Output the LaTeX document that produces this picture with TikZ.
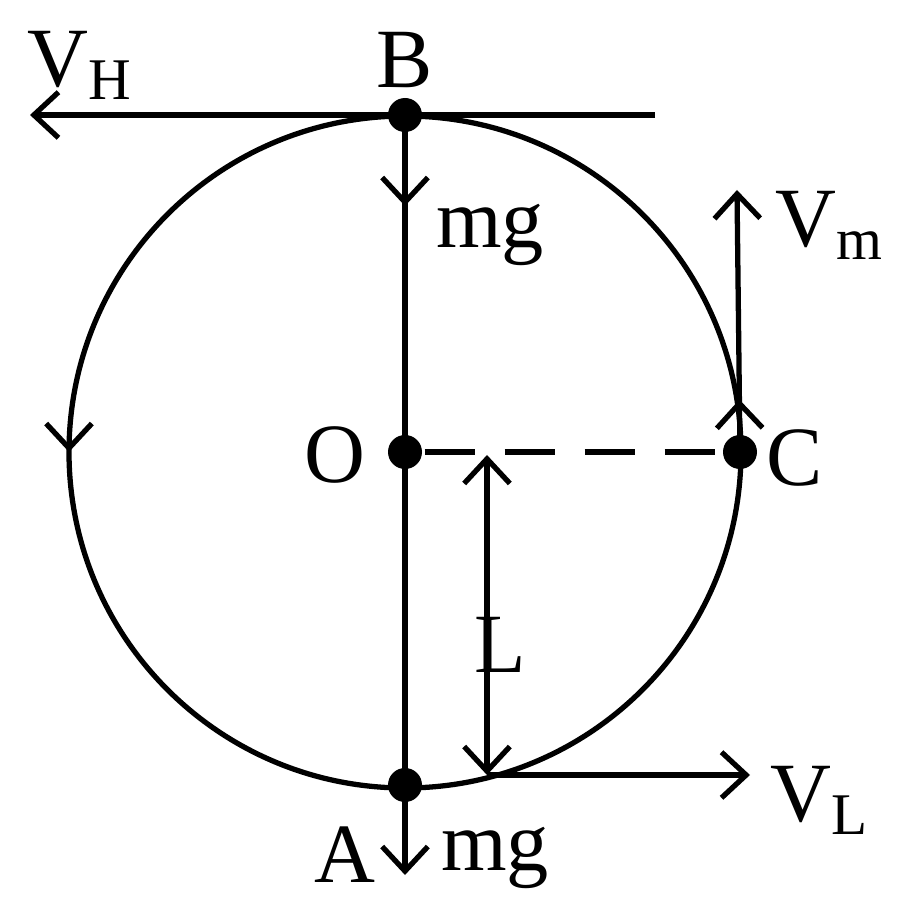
\documentclass[tikz,border=0pt]{standalone}
\usepackage{fontspec}
\setmainfont{Liberation Serif}
\usetikzlibrary{arrows.meta,positioning,decorations.markings,calc}
\tikzset{
	pt/.style={circle, fill, inner sep=0pt, minimum size=0.34cm},
	lbl/.style={font=\fontsize{24}{26}\selectfont, inner sep=1pt},
	vec/.style={line width=1.5pt, -{Straight Barb[length=7pt,width=13pt,line width=1.5pt]}},
	midtip/.style={postaction={decorate}, decoration={markings,
		mark=at position #1 with {\arrow{Straight Barb[length=7pt,width=13pt,line width=1.5pt]}}}}
}
\begin{document}
\begin{tikzpicture}[line width=1.5pt]
	\useasboundingbox (0,0) rectangle (9,9.2);
	\node[pt] (O) at (4.05,4.68) {};
	\node[pt] (B) at (4.05,8.05) {};
	\node[pt] (A) at (4.05,1.35) {};
	\node[pt] (C) at (7.40,4.68) {};
	\coordinate (Hend) at (0.3,8.05);
	\coordinate (Hstart) at (6.55,8.05);
	\coordinate (Vm) at (7.37,7.3);
	\coordinate (Ltop) at (4.87,4.65);
	\coordinate (Lbot) at (4.87,1.45);
	\coordinate (VL) at (7.5,1.45);
	\coordinate (Ag) at (4.05,0.45);
	
	% circle and its sense of motion
	\draw[midtip=0.5] (O) circle[radius=3.36];
	\draw[dashed, dash pattern=on 0.5cm off 0.3cm] (O) -- (C);
	
	% vertical rope and forces
	\draw[midtip=0.27] (B.center) -- (O.center);
	\draw (O.center) -- (A.center);
	\draw[vec] (A.center) -- (Ag);
	\draw[vec] (Hstart) -- (Hend);
	\draw[vec, midtip=0.2] (C.center) -- (Vm);
	\draw[vec, {Straight Barb[length=7pt,width=13pt,line width=1.5pt]}-{Straight Barb[length=7pt,width=13pt,line width=1.5pt]}] (Ltop) -- (Lbot);
	\draw[vec] (Lbot) -- (VL);
	
	% labels
	\node[lbl] at (4.05,8.6) {B};
	\node[lbl] at (3.35,4.65) {O};
	\node[lbl] at (7.95,4.62) {C};
	\node[lbl] at (3.45,0.65) {A};
	\node[lbl] at (4.95,0.62) {mg};
	\node[lbl] at (4.9,6.85) {mg};
	\node[lbl] at (5.0,2.75) {L};
	\node[lbl] at (0.8,8.55) {V\textsubscript{H}};
	\node[lbl] at (8.3,6.95) {V\textsubscript{m}};
	\node[lbl] at (8.2,1.2) {V\textsubscript{L}};
\end{tikzpicture}
\end{document}
